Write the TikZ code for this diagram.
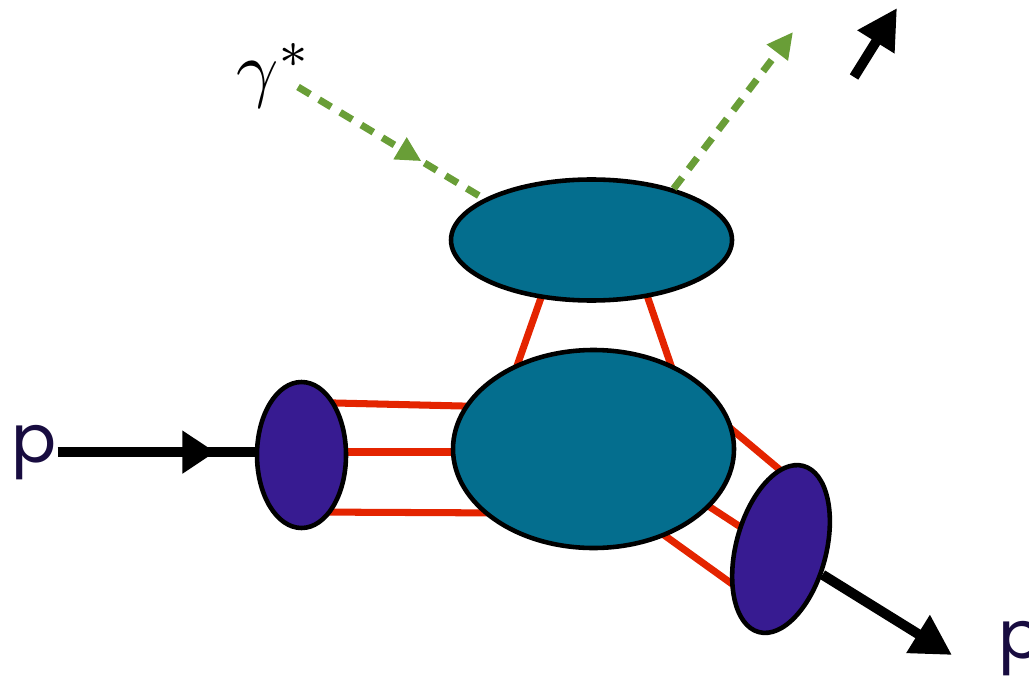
\documentclass[tikz,border=0pt]{standalone}
\usepackage{fontspec}
\usepackage{amsmath}
\usepackage{tikz}
\usetikzlibrary{shapes}
\usetikzlibrary{arrows.meta}
\usetikzlibrary{decorations.markings}
\usetikzlibrary{backgrounds}

\newfontfamily\protonfont{Poppins}
\definecolor{blobteal}{RGB}{4,110,142}
\definecolor{blobpurple}{RGB}{55,27,145}
\definecolor{gluonred}{RGB}{228,36,0}
\definecolor{photongreen}{RGB}{105,158,55}
\definecolor{protonnavy}{RGB}{24,12,64}

\begin{document}
\begin{tikzpicture}

  \tikzset{blob/.style = {shape=ellipse,draw,line width=1.3pt,inner sep=0pt}}
  \tikzset{gluon/.style = {draw=gluonred,line width=2pt}}
  \tikzset{beam/.style = {line width=1mm}}
  \tikzset{photon/.style = {photongreen,line width=2pt,dash pattern=on 4pt off 3pt}}
  \tikzset{plabel/.style = {text=protonnavy,font=\protonfont\fontsize{19}{23}\selectfont,inner sep=0pt,anchor=base west}}
  \useasboundingbox (0,0) rectangle (10.29,6.75);
  \clip (0,0) rectangle (10.29,6.75);
  % blobs
  \node[blob, fill=blobteal, minimum width=2.81cm, minimum height=1.21cm] (t) at (5.915,4.35) {};
  \node[blob, fill=blobteal, minimum width=2.81cm, minimum height=1.98cm] (m) at (5.935,2.26) {};
  \node[blob, fill=blobpurple, minimum width=0.89cm, minimum height=1.46cm] (l) at (3.015,2.20) {};
  \node[blob, fill=blobpurple, minimum width=0.90cm, minimum height=1.72cm, rotate=-15] (r) at (7.81,1.26) {};
  % labels
  \node[plabel] (pin) at (0.11,2.13) {p};
  \node[plabel] (pout) at (9.98,0.17) {p};
  \node[scale=2.1, anchor=base west, inner sep=0pt] (gam) at (2.35,5.81) {$\gamma^*$};
  \coordinate (gin)  at (2.98,5.88);
  \coordinate (gout) at (7.93,6.43);
  \coordinate (pend) at (9.52,0.20);
  \coordinate (jet0) at (8.54,5.98);
  \coordinate (jet1) at (8.97,6.67);
  % gluons
  \begin{scope}[on background layer]
    \draw[gluon] ([xshift=0.085cm,yshift=0.526cm]l.center) -- ([xshift=-0.935cm,yshift=0.421cm]m.center);
    \draw[gluon] ([xshift=0.085cm,yshift=0.03cm]l.center) -- ([xshift=-0.935cm,yshift=-0.03cm]m.center);
    \draw[gluon] ([xshift=0.085cm,yshift=-0.57cm]l.center) -- ([xshift=-0.835cm,yshift=-0.64cm]m.center);
    \draw[gluon] ([xshift=-0.425cm,yshift=-0.35cm]t.center) -- ([xshift=-0.815cm,yshift=0.69cm]m.center);
    \draw[gluon] ([xshift=0.485cm,yshift=-0.35cm]t.center) -- ([xshift=0.825cm,yshift=0.69cm]m.center);
    \draw[gluon] ([xshift=1.175cm,yshift=0.37cm]m.center) -- ([xshift=0.11cm,yshift=0.69cm]r.center);
    \draw[gluon] ([xshift=0.965cm,yshift=-0.45cm]m.center) -- ([xshift=-0.16cm,yshift=0.06cm]r.center);
    \draw[gluon] ([xshift=0.565cm,yshift=-0.76cm]m.center) -- ([xshift=-0.21cm,yshift=-0.55cm]r.center);
  \end{scope}
  % beams
  \draw[beam, postaction={decorate}, decoration={markings, mark=at position 0.8 with {\arrow{Triangle[length=3.3mm,width=4.1mm]}}}] (pin.east) -- (pin.east -| l.west);
  \draw[beam, -{Triangle[length=4mm,width=4.2mm]}] (r) -- (pend);
  \draw[beam, -{Triangle[length=4mm,width=4.1mm]}] (jet0) -- (jet1);
  % photons
  \draw[photon, postaction={decorate}, decoration={markings, mark=at position 0.664 with {\arrow{Triangle[length=2.5mm,width=2.4mm]}}}] (gin) -- (t.159);
  \draw[photon, -{Triangle[length=2.6mm,width=2.5mm]}] (t.32) -- (gout);
\end{tikzpicture}
\end{document}
